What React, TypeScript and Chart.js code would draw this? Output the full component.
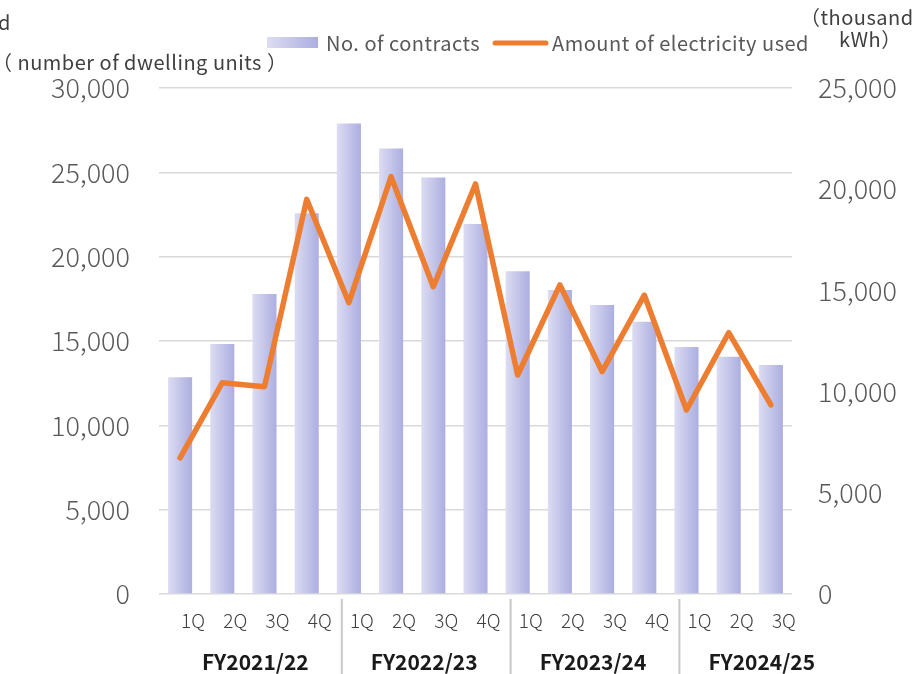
import React, { useEffect, useRef } from "react";
import { Chart, registerables } from "chart.js";

Chart.register(...registerables);

const quarters = ["1Q", "2Q", "3Q", "4Q", "1Q", "2Q", "3Q", "4Q", "1Q", "2Q", "3Q", "4Q", "1Q", "2Q", "3Q"];
const fiscalYears = ["FY2021/22", "FY2022/23", "FY2023/24", "FY2024/25"];
const quartersPerYear = [4, 4, 4, 3];
const contracts = [12850, 14820, 17790, 22570, 27900, 26420, 24700, 21940, 19130, 18020, 17130, 16140, 14640, 14070, 13580];
const electricity = [6730, 10440, 10240, 19500, 14390, 20620, 15180, 20260, 10820, 15270, 10990, 14770, 9090, 12910, 9340];
const leftAxisMax = 30000;
const rightAxisMax = 25000;
const axisStep = 5000;
const barLabel = "No. of contracts";
const lineLabel = "Amount of electricity used";
const leftTitle = "（ number of dwelling units ）";
const leftTitleCut = "d";
const rightTitle1 = "（thousand";
const rightTitle2 = "kWh）";

const ORANGE = "#ED7D31";
const BAR_L = "#dcdcf3";
const BAR_R = "#acaee0";
const FONT = "'Noto Sans CJK JP', 'Noto Sans', sans-serif";
const BAR_PCT = 0.57;

function barGradient(ctx: CanvasRenderingContext2D, x0: number, x1: number) {
  const g = ctx.createLinearGradient(x0, 0, x1, 0);
  g.addColorStop(0, BAR_L);
  g.addColorStop(1, BAR_R);
  return g;
}

const extrasPlugin = {
  id: "extras",
  beforeDatasetsDraw(chart: any) {
    const ctx = chart.ctx;
    chart.data.datasets.forEach((ds: any, i: number) => {
      if (ds.type !== "bar") return;
      const meta = chart.getDatasetMeta(i);
      meta.data.forEach((el: any) => {
        const w = el.width;
        el.options = Object.assign({}, el.options, {
          backgroundColor: barGradient(ctx, el.x - w / 2, el.x + w / 2),
        });
      });
    });
  },
  afterDraw(chart: any) {
    const ctx = chart.ctx;
    const xs = chart.scales.x;
    ctx.save();
    let start = 0;
    fiscalYears.forEach((fy, gi) => {
      if (gi > 0) {
        const sx = xs.getPixelForValue(start - 0.5) + 14;
        ctx.strokeStyle = "#c8c8c8";
        ctx.lineWidth = 2;
        ctx.beginPath();
        ctx.moveTo(sx, chart.chartArea.bottom + 5);
        ctx.lineTo(sx, chart.height);
        ctx.stroke();
      }
      const cx = xs.getPixelForValue(start + 1.5) + 12;
      ctx.fillStyle = "#1a1a1a";
      ctx.font = `bold 21px ${FONT}`;
      ctx.textAlign = "center";
      ctx.textBaseline = "middle";
      ctx.fillText(fy, cx, 662);
      start += quartersPerYear[gi];
    });

    // legend
    const lx = 267, ly = 43;
    ctx.fillStyle = barGradient(ctx, lx, lx + 51);
    ctx.fillRect(lx, ly - 6, 51, 11);
    ctx.font = `20px ${FONT}`;
    (ctx as any).letterSpacing = "0.5px";
    ctx.fillStyle = "#595959";
    ctx.textAlign = "left";
    ctx.textBaseline = "middle";
    ctx.fillText(barLabel, 326, ly);
    ctx.strokeStyle = ORANGE;
    ctx.lineWidth = 5;
    ctx.lineCap = "round";
    ctx.beginPath();
    ctx.moveTo(495, ly);
    ctx.lineTo(546, ly);
    ctx.stroke();
    ctx.fillText(lineLabel, 552, ly);

    // axis titles
    ctx.fillStyle = "#404040";
    ctx.fillText(leftTitleCut, -2, 22);
    ctx.fillText(leftTitle, -8, 62);
    ctx.fillText(rightTitle1, 800, 17);
    ctx.fillText(rightTitle2, 839, 39);
    (ctx as any).letterSpacing = "0px";
    ctx.restore();
  },
};

export default function App() {
  const ref = useRef<HTMLCanvasElement>(null);
  useEffect(() => {
    if (!ref.current) return;
    const chart = new Chart(ref.current, {
      data: {
        labels: quarters,
        datasets: [
          {
            type: "line",
            label: lineLabel,
            data: electricity,
            yAxisID: "y1",
            borderColor: ORANGE,
            borderWidth: 5.5,
            pointRadius: 0,
            borderJoinStyle: "round",
            borderCapStyle: "round",
            tension: 0,
            order: 0,
          } as any,
          {
            type: "bar",
            label: barLabel,
            data: contracts,
            yAxisID: "y",
            backgroundColor: () => BAR_R,
            categoryPercentage: 1,
            barPercentage: BAR_PCT,
            order: 1,
          } as any,
        ],
      },
      options: {
        responsive: false,
        animation: false,
        devicePixelRatio: 1,
        layout: { padding: { top: 88, left: 0, right: 0, bottom: 0 } },
        plugins: { legend: { display: false }, tooltip: { enabled: false } },
        scales: {
          x: {
            grid: { display: false },
            border: { display: false },
            ticks: {
              font: { family: FONT, size: 19, weight: 300 },
              color: "#404040",
              padding: 7,
              labelOffset: 13,
              maxRotation: 0,
              autoSkip: false,
            },
            afterFit: (s: any) => { s.height = 80; },
          },
          y: {
            position: "left",
            min: 0,
            max: leftAxisMax,
            ticks: {
              stepSize: axisStep,
              font: { family: FONT, size: 27, weight: 300 },
              color: "#595959",
              padding: 29,
              callback: (v: any) => Number(v).toLocaleString("en-US"),
            },
            grid: { color: "#d9d9d9", lineWidth: 1.5, drawTicks: false },
            border: { display: false },
            afterFit: (s: any) => { s.width = 159; },
          },
          y1: {
            position: "right",
            min: 0,
            max: rightAxisMax,
            ticks: {
              stepSize: axisStep,
              font: { family: FONT, size: 27, weight: 300 },
              color: "#595959",
              padding: 26,
              callback: (v: any) => Number(v).toLocaleString("en-US"),
            },
            grid: { display: false, drawTicks: false },
            border: { display: false },
            afterFit: (s: any) => { s.width = 124; },
          },
        },
      },
      plugins: [extrasPlugin],
    });
    return () => chart.destroy();
  }, []);
  return (
    <div style={{ position: "fixed", left: 0, top: 0, width: 916, height: 674, background: "#fff" }}>
      <canvas ref={ref} width={916} height={674} style={{ width: 916, height: 674 }} />
    </div>
  );
}
